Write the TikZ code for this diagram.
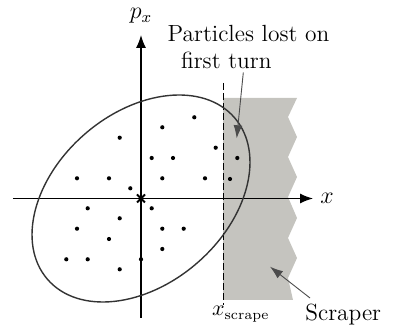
\documentclass[tikz,border=0pt]{standalone}
\usetikzlibrary{arrows.meta}
\definecolor{scrapergray}{RGB}{197,196,191}
\begin{document}
\begin{tikzpicture}[x=0.5pt,y=0.5pt,
  lbl/.style={font=\fontsize{11.7}{14}\selectfont, inner sep=0pt},
  axis/.style={line width=0.65pt, -{Latex[length=6.5pt,width=5pt]}},
  annot/.style={line width=0.45pt, draw=black!70, -{Latex[length=6.5pt,width=4.5pt]}},
  particle/.style={fill=black},
  ring/.style={line width=0.7pt, draw=black!80}]
\useasboundingbox (-141,-132.5) rectangle (265,198.5);
% scraper
\fill[scrapergray] (82,100.5) -- (156,100.5) -- (147,81.5) -- (156,61.5) -- (147,41.5)
  -- (156,21.5) -- (147,1.5) -- (156,-19.5) -- (147,-39.5) -- (156,-59.5)
  -- (147,-79.5) -- (152,-101.5) -- (82,-101.5) -- cycle;
\draw[dashed, dash pattern=on 3.3pt off 1.7pt, line width=0.45pt] (82,115.5) -- (82,-106.5);
% axes
\coordinate (xl) at (-128,0);
\coordinate (xr) at (172,0);
\coordinate (yb) at (0,-119.5);
\coordinate (yt) at (0,163.5);
\draw[axis] (xl) -- (xr);
\draw[axis] (yb) -- (yt);
\node[lbl, anchor=west] (xlab) at (179,0) {$x$};
\node[lbl] (plab) at (0,182.5) {$p_x$};
% ellipse
\draw[ring, rotate=40.8] (0,0) ellipse [x radius=123.6, y radius=85.5];
% origin cross
\draw[line width=0.9pt] (-4,-4) -- (4,4) (-4,4) -- (4,-4);
% particles
\foreach \px/\py in {53.3/81.2, 21.3/71.2, -21.3/60.8, 74.7/50.8, 96.3/40.5, 10.7/40.5,
  32/40.5, -64/20.2, -32/20.2, 21.3/20.2, 64/20.2, 89/19.5, -10.7/10.2, -53.3/-9.8,
  10.7/-9.8, -21.3/-19.8, -64/-30.2, 21.3/-30.2, 42.7/-30.2, -32/-40.5, 21.3/-50.5,
  -74.7/-60.8, -53.3/-60.8, 0/-60.8, -21.3/-70.8}
  \fill[particle] (\px,\py) circle[radius=1.05pt];
% labels
\node[lbl, anchor=base west] (lost1) at (26.3,156.8) {Particles lost on};
\node[lbl, anchor=base west] (lost2) at (39.7,129.5) {first turn};
\coordinate (lostfrom) at (102.3,126);
\coordinate (lostto) at (95.7,60.2);
\draw[annot] (lostfrom) -- (lostto);
\node[lbl, anchor=base west] (scr) at (164,-121.5) {Scraper};
\coordinate (scrfrom) at (169,-99.5);
\coordinate (scrto) at (129,-68.2);
\draw[annot] (scrfrom) -- (scrto);
\node[lbl, anchor=base west, font=\fontsize{10.5}{12}\selectfont] (xs) at (70.7,-117.5) {$x_{\mathrm{scrape}}$};
\end{tikzpicture}
\end{document}
